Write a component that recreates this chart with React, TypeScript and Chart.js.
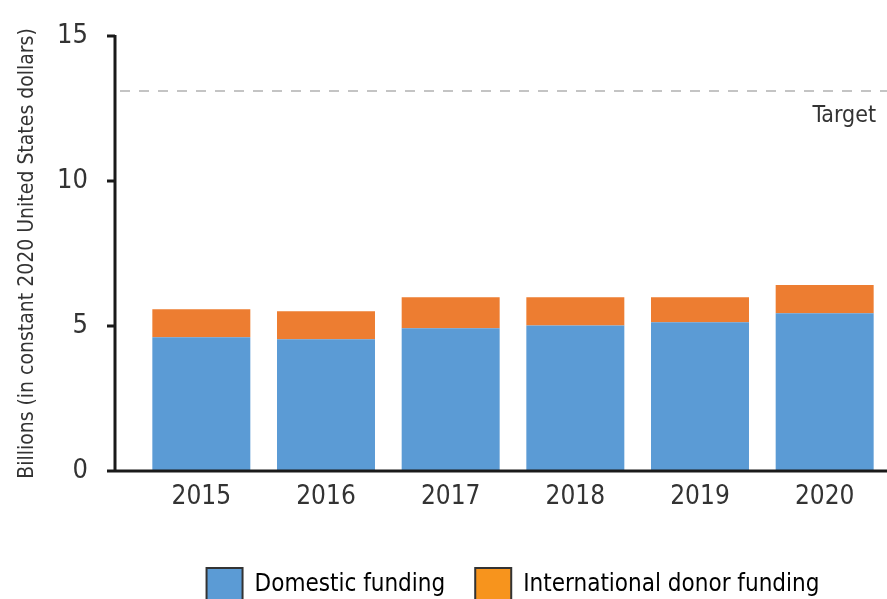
import React, { useEffect, useRef } from "react";
import { Chart, registerables } from "chart.js";

Chart.register(...registerables);

const years = ["2015", "2016", "2017", "2018", "2019", "2020"];
const domesticFunding = [4.61, 4.54, 4.92, 5.02, 5.13, 5.44];
const donorFunding = [0.97, 0.97, 1.07, 0.97, 0.86, 0.97];
const targetValue = 13.1;
const yTicks = [0, 5, 10, 15];

const FONT = '"DejaVu Sans Condensed", "Liberation Sans", sans-serif';

const axisPlugin = {
  id: "customAxes",
  beforeDatasetsDraw(chart: any) {
    const { ctx, chartArea, scales } = chart;
    const y = scales.y;
    const ty = y.getPixelForValue(targetValue);
    ctx.save();
    ctx.strokeStyle = "#c4c4c4";
    ctx.lineWidth = 2;
    ctx.setLineDash([10, 9]);
    ctx.beginPath();
    ctx.moveTo(chartArea.left - 19, ty);
    ctx.lineTo(chartArea.right, ty);
    ctx.stroke();
    ctx.setLineDash([]);
    ctx.fillStyle = "#333";
    ctx.font = `23px ${FONT}`;
    ctx.textAlign = "right";
    ctx.textBaseline = "middle";
    ctx.fillText("Target", chartArea.right - 11, ty + 25);
    ctx.restore();
  },
  afterDatasetsDraw(chart: any) {
    const { ctx, chartArea, scales } = chart;
    const y = scales.y;
    const axisX = chartArea.left - 24;
    const y0 = y.getPixelForValue(0);
    const yTop = y.getPixelForValue(15);
    ctx.save();
    ctx.strokeStyle = "#1a1a1a";
    ctx.lineWidth = 3;
    ctx.beginPath();
    ctx.moveTo(axisX, yTop - 1);
    ctx.lineTo(axisX, y0);
    ctx.moveTo(axisX - 8, y0);
    ctx.lineTo(chartArea.right, y0);
    yTicks.forEach((v) => {
      const p = y.getPixelForValue(v);
      ctx.moveTo(axisX - 8, p);
      ctx.lineTo(axisX, p);
    });
    ctx.stroke();
    ctx.restore();
  },
};

export default function App() {
  const ref = useRef<HTMLCanvasElement>(null);
  useEffect(() => {
    if (!ref.current) return;
    const chart = new Chart(ref.current, {
      type: "bar",
      data: {
        labels: years,
        datasets: [
          {
            label: "Domestic funding",
            data: domesticFunding,
            backgroundColor: "#5B9BD5",
            categoryPercentage: 1,
            barPercentage: 0.786,
          },
          {
            label: "International donor funding",
            data: donorFunding,
            backgroundColor: "#ED7D31",
            categoryPercentage: 1,
            barPercentage: 0.786,
          },
        ],
      },
      options: {
        responsive: false,
        animation: false,
        devicePixelRatio: 1,
        layout: { padding: { top: 36, right: 0, left: 0, bottom: 0 } },
        plugins: {
          tooltip: { enabled: false },
          legend: {
            position: "bottom",
            fullSize: false,
            labels: {
              font: { family: FONT, size: 24 },
              color: "#222",
              boxWidth: 36,
              boxHeight: 34,
              padding: 30,
              generateLabels: () => [
                { text: "Domestic funding", fillStyle: "#5B9BD5", strokeStyle: "#333", lineWidth: 2, datasetIndex: 0 },
                { text: "International donor funding", fillStyle: "#F7941D", strokeStyle: "#333", lineWidth: 2, datasetIndex: 1 },
              ],
            },
          },
        },
        scales: {
          x: {
            stacked: true,
            offset: true,
            grid: { display: false, drawTicks: false },
            border: { display: false },
            ticks: { font: { family: FONT, size: 26 }, color: "#333", padding: 11 },
            afterFit: (scale: any) => {
              scale.height = 67;
            },
          },
          y: {
            stacked: true,
            min: 0,
            max: 15,
            grid: { display: false, drawTicks: false },
            border: { display: false },
            ticks: { stepSize: 5, font: { family: FONT, size: 27 }, color: "#333", padding: 51 },
            title: {
              display: true,
              text: "Billions (in constant 2020 United States dollars)",
              font: { family: FONT, size: 21 },
              color: "#333",
              padding: { top: 15, bottom: 0 },
            },
            afterFit: (scale: any) => {
              scale.width = 139;
              scale.paddingTop = 0;
              scale.paddingBottom = 0;
            },
          },
        },
      },
      plugins: [axisPlugin],
    });
    return () => chart.destroy();
  }, []);
  return (
    <div style={{ position: "absolute", left: 0, top: 0 }}>
      <canvas ref={ref} width={887} height={612} style={{ display: "block" }} />
    </div>
  );
}
